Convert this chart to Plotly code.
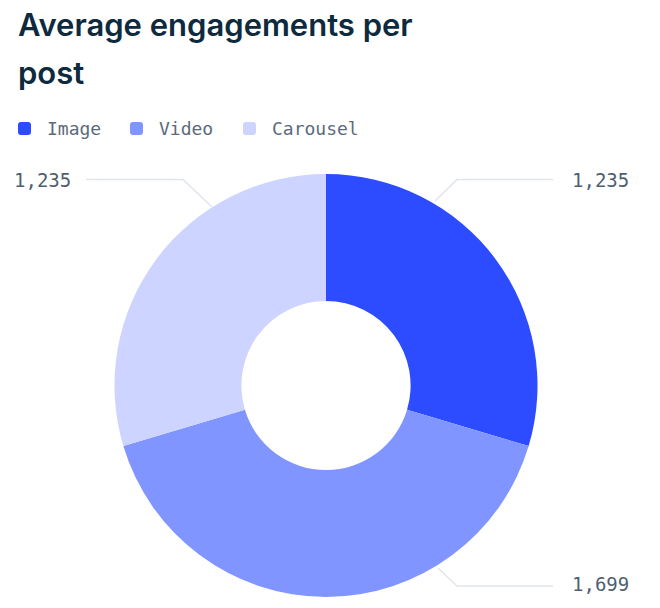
import plotly.graph_objects as go

W, H = 660, 608

categories = ["Image", "Video", "Carousel"]
values = [1235, 1699, 1235]
colors = ["#2D4BFF", "#8095FF", "#CDD4FF"]
label_texts = ["1,235", "1,699", "1,235"]

title_lines = ["Average engagements per", "post"]


def px(x):
    return x / W


def py(y):
    return 1 - y / H


fig = go.Figure()
fig.add_trace(go.Pie(
    labels=categories,
    values=values,
    marker=dict(colors=colors, line=dict(width=0)),
    hole=0.4,
    sort=False,
    direction="clockwise",
    rotation=0,
    textinfo="none",
    hoverinfo="label+value",
    showlegend=False,
    domain=dict(x=[px(326 - 211.5), px(326 + 211.5)], y=[py(597), py(174)]),
))

# leader lines (pixel layout converted to paper coords)
leader_paths = [
    [(435, 201), (457, 179.5), (553, 179.5)],   # Image (top right)
    [(438, 568), (457, 586), (553, 586)],       # Video (bottom right)
    [(212, 207), (183, 179.5), (86, 179.5)],    # Carousel (top left)
]
label_pos = [
    (570, 180, "left"),
    (570, 584, "left"),
    (73, 180, "right"),
]

for pts in leader_paths:
    d = "M " + " L ".join(f"{px(x)},{py(y)}" for x, y in pts)
    fig.add_shape(type="path", path=d, xref="paper", yref="paper",
                  line=dict(color="#E1E6EC", width=1.5))

for (x, y, anc), txt in zip(label_pos, label_texts):
    fig.add_annotation(x=px(x), y=py(y), xref="paper", yref="paper",
                       text=txt, showarrow=False, xanchor=anc, yanchor="middle",
                       font=dict(family="DejaVu Sans Mono", size=19, color="#4F5F71"))

# title
for txt, yy in zip(title_lines, [24, 72]):
    fig.add_annotation(x=px(16), y=py(yy), xref="paper", yref="paper",
                       text=txt, showarrow=False, xanchor="left", yanchor="middle",
                       font=dict(family="Inter", size=31, color="#0D2A3E", weight=600))

# legend (drawn as rounded swatches + text)
legend_x = [18, 130, 243]
legend_y = 128.5
sw = 13
r = 3
for lx, name, col in zip(legend_x, categories, colors):
    x0, x1 = lx, lx + sw
    y0, y1 = legend_y - sw / 2, legend_y + sw / 2
    pts = (f"M {px(x0 + r)},{py(y0)} L {px(x1 - r)},{py(y0)} "
           f"Q {px(x1)},{py(y0)} {px(x1)},{py(y0 + r)} "
           f"L {px(x1)},{py(y1 - r)} Q {px(x1)},{py(y1)} {px(x1 - r)},{py(y1)} "
           f"L {px(x0 + r)},{py(y1)} Q {px(x0)},{py(y1)} {px(x0)},{py(y1 - r)} "
           f"L {px(x0)},{py(y0 + r)} Q {px(x0)},{py(y0)} {px(x0 + r)},{py(y0)} Z")
    fig.add_shape(type="path", path=pts, xref="paper", yref="paper",
                  fillcolor=col, line=dict(width=0))
    fig.add_annotation(x=px(lx + 27), y=py(legend_y), xref="paper", yref="paper",
                       text=name, showarrow=False, xanchor="left", yanchor="middle",
                       font=dict(family="DejaVu Sans Mono", size=18, color="#5B6B7C"))

fig.update_layout(
    width=W, height=H,
    margin=dict(l=0, r=0, t=0, b=0),
    paper_bgcolor="white",
    plot_bgcolor="white",
    showlegend=False,
)

fig.write_html("out.html")
